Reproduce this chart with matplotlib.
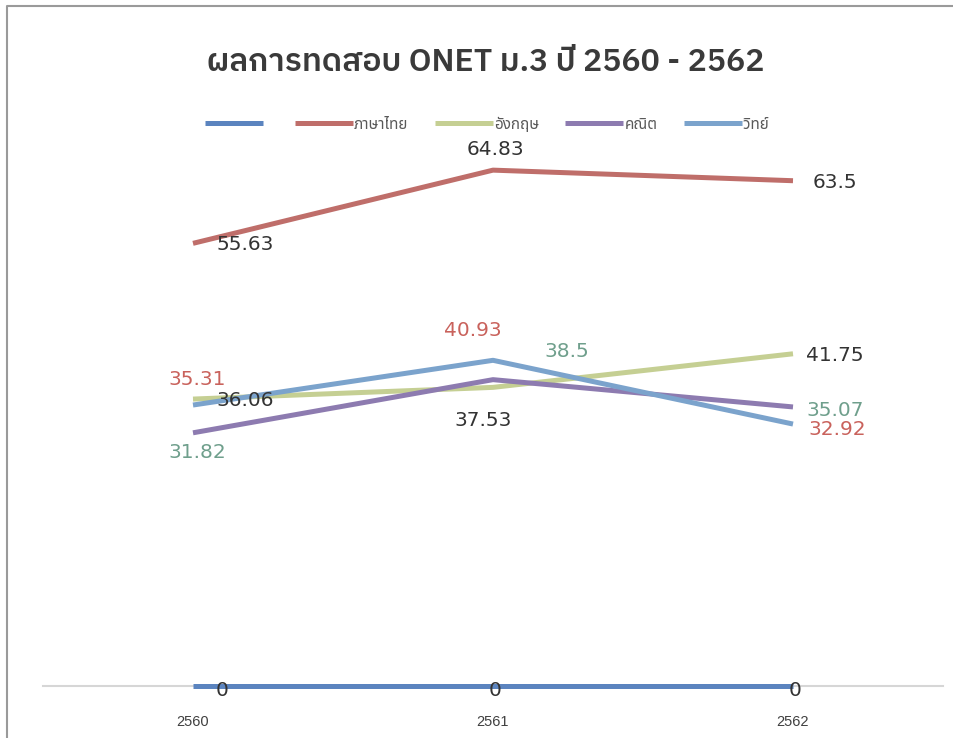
import matplotlib
matplotlib.use("Agg")
from matplotlib import pyplot as plt
from matplotlib.lines import Line2D

plt.rcParams['font.family'] = ['Noto Sans Thai', 'DejaVu Sans']

# data
years = ["2560", "2561", "2562"]
blank = [0, 0, 0]
thai = [55.63, 64.83, 63.5]
english = [36.06, 37.53, 41.75]
math_ = [31.82, 38.5, 35.07]
science = [35.31, 40.93, 32.92]

series_names = ["", "ภาษาไทย", "อังกฤษ", "คณิต", "วิทย์"]
series_values = [blank, thai, english, math_, science]
line_colors = ["#5b84bf", "#bf6e6a", "#c5cf93", "#8d7bb0", "#7ba3cc"]
label_colors = ["#333333", "#333333", "#333333", "#6f9f8c", "#c9625c"]

# label offsets (pixels) from each point, like the hand-dragged Excel labels
label_offsets = [
    [(29, -4), (2, -4), (2, -4)],
    [(52, -1), (2, 21), (42, -2)],
    [(52, -1), (-10, -33), (42, -2)],
    [(4, -20), (74, 28), (42, -4)],
    [(4, 26), (-20, 30), (44, -5)],
]

fig = plt.figure(figsize=(9.54, 7.38), dpi=100)
ax = fig.add_axes([43 / 954, 52 / 738, 900 / 954, 557 / 738])

x = list(range(len(years)))
for name, vals, col in zip(series_names, series_values, line_colors):
    ax.plot(x, vals, color=col, lw=3.6, label=name if name else " ",
            solid_capstyle="butt", zorder=3, clip_on=False)

for vals, col, offs in zip(series_values, label_colors, label_offsets):
    for i, v in enumerate(vals):
        txt = "%g" % v
        ax.annotate(txt, (x[i], v), xytext=offs[i], textcoords="offset pixels",
                    ha="center", va="center", fontsize=14.5, color=col,
                    family="DejaVu Sans", zorder=5,
                    annotation_clip=False)

ax.set_xlim(-0.5, 2.5)
ax.set_ylim(0, 70)
ax.set_xticks(x)
ax.set_xticklabels(years, family=["Liberation Sans", "DejaVu Sans"],
                   fontsize=10.5, color="#404040")
ax.tick_params(axis="x", length=0, pad=21)
ax.set_yticks([])
for s in ["top", "right", "left"]:
    ax.spines[s].set_visible(False)
ax.spines["bottom"].set_color("#d6d6d6")
ax.spines["bottom"].set_linewidth(1.5)
ax.spines["bottom"].set_zorder(1)

fig.text(486 / 954, 1 - 62 / 738, "ผลการทดสอบ ONET ม.3 ปี 2560 - 2562",
         ha="center", va="center", fontsize=23, color="#3a3a3a",
         family=["IBM Plex Sans Thai", "Noto Sans Thai", "DejaVu Sans"],
         fontweight="semibold")

leg = ax.legend(loc="center", bbox_to_anchor=(487 / 954, 1 - 125 / 738),
                bbox_transform=fig.transFigure, ncol=5, frameon=False,
                handlelength=3.8, handletextpad=0.1, columnspacing=1.7,
                fontsize=11)
for t in leg.get_texts():
    t.set_color("#595959")

# scanned page frame
fig.add_artist(Line2D([7 / 954, 7 / 954, 1], [0, 1 - 6 / 738, 1 - 6 / 738],
                      color="#9a9a9a", lw=1.5))

fig.savefig("out.png", dpi=100)
